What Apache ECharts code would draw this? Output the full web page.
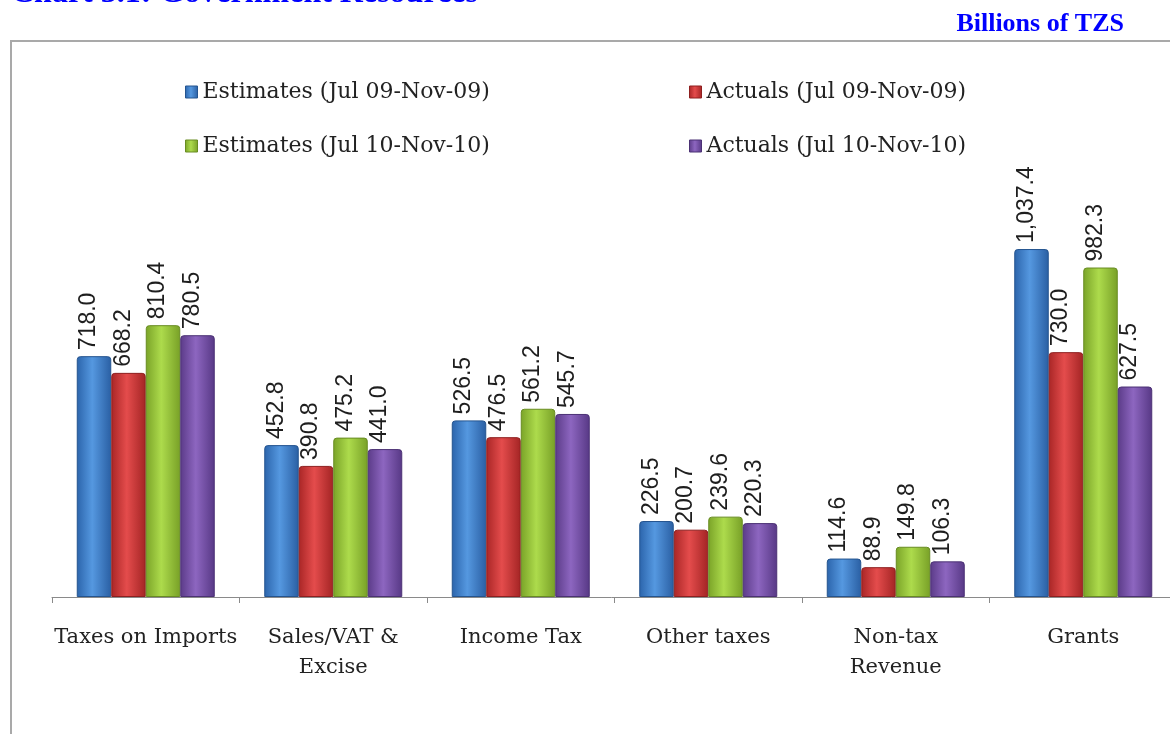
<!DOCTYPE html>
<html>
<head>
<meta charset="utf-8">
<title>Government Resources</title>
<script src="https://cdn.jsdelivr.net/npm/echarts@6/dist/echarts.min.js"></script>
<style>
  html, body { margin: 0; padding: 0; background: #ffffff; }
  #chart { width: 1170px; height: 734px; }
</style>
</head>
<body>
<div id="chart"></div>
<script>
// Revenue heads (billions of TZS)
const categories = ['Taxes on Imports', 'Sales/VAT &\nExcise', 'Income Tax', 'Other taxes', 'Non-tax\nRevenue', 'Grants'];
const estimates0909 = [718.0, 452.8, 526.5, 226.5, 114.6, 1037.4];
const actuals0909   = [668.2, 390.8, 476.5, 200.7, 88.9, 730.0];
const estimates1010 = [810.4, 475.2, 561.2, 239.6, 149.8, 982.3];
const actuals1010   = [780.5, 441.0, 545.7, 220.3, 106.3, 627.5];
const seriesNames = [
  'Estimates (Jul 09-Nov-09)',
  'Actuals (Jul 09-Nov-09)',
  'Estimates (Jul 10-Nov-10)',
  'Actuals (Jul 10-Nov-10)'
];

// Bevel-like horizontal shading per series: [edge, centre, edge, border]
const palette = [
  ['#2b64ab', '#5598e0', '#2a5fa3', '#24548f'],
  ['#a92626', '#e44c4c', '#a32424', '#8e1f1f'],
  ['#7aa328', '#addb4c', '#78a027', '#688c22'],
  ['#5b3b88', '#8d66c0', '#573885', '#4b3174']
];

function shade(p) {
  return new echarts.graphic.LinearGradient(0, 0, 1, 0, [
    { offset: 0, color: p[0] },
    { offset: 0.45, color: p[1] },
    { offset: 1, color: p[2] }
  ]);
}

const fmt = v => Number(v).toLocaleString('en-US', { minimumFractionDigits: 1, maximumFractionDigits: 1 });

const serifFont = '"DejaVu Serif", serif';
const values = [estimates0909, actuals0909, estimates1010, actuals1010];

const series = values.map((arr, i) => ({
  name: seriesNames[i],
  type: 'bar',
  data: arr,
  barWidth: 34.5,
  barGap: '0%',
  itemStyle: {
    color: shade(palette[i]),
    borderColor: palette[i][3],
    borderWidth: 1,
    borderRadius: [3, 3, 0, 0]
  },
  label: {
    show: true,
    position: 'top',
    rotate: 90,
    align: 'left',
    verticalAlign: 'middle',
    distance: 6,
    offset: [0, -5],
    fontFamily: '"Liberation Sans", sans-serif',
    fontSize: 23,
    color: '#1e1e1e',
    formatter: p => fmt(p.value)
  }
}));

const legendPos = [
  { left: 185, top: 81 },
  { left: 689, top: 81 },
  { left: 185, top: 135 },
  { left: 689, top: 135 }
];

const legends = seriesNames.map((n, i) => ({
  data: [{ name: n, itemStyle: { color: shade(palette[i]), borderColor: palette[i][3], borderWidth: 1 } }],
  left: legendPos[i].left,
  top: legendPos[i].top,
  padding: 0,
  icon: 'rect',
  itemWidth: 12,
  itemHeight: 12,
  selectedMode: false,
  textStyle: { fontFamily: serifFont, fontSize: 22, color: '#222' }
}));

const chart = echarts.init(document.getElementById('chart'), null, { renderer: 'canvas' });
chart.setOption({
  backgroundColor: '#ffffff',
  animation: false,
  graphic: [
    {
      type: 'rect',
      shape: { x: 11, y: 41, width: 1200, height: 740 },
      style: { fill: 'none', stroke: '#a9a9a9', lineWidth: 2 },
      z: -1
    },
    {
      type: 'text',
      x: 11, y: 10,
      style: {
        text: 'Chart 3.1: Government Resources',
        font: 'bold 32px "Liberation Serif", serif',
        fill: '#0000ff',
        align: 'left',
        verticalAlign: 'bottom'
      }
    },
    {
      type: 'text',
      x: 1124, y: 24,
      style: {
        text: 'Billions of TZS',
        font: 'bold 26px "Liberation Serif", serif',
        fill: '#0000ff',
        align: 'right',
        verticalAlign: 'middle'
      }
    }
  ],
  legend: legends,
  grid: { left: 52, width: 1125, top: 194.5, bottom: 137, outerBoundsMode: 'none' },
  xAxis: {
    type: 'category',
    data: categories,
    axisLine: { lineStyle: { color: '#8a8a8a', width: 1 } },
    axisTick: { show: true, length: 6, lineStyle: { color: '#8a8a8a' } },
    axisLabel: {
      interval: 0,
      margin: 26,
      fontFamily: serifFont,
      fontSize: 21,
      lineHeight: 30,
      color: '#222'
    }
  },
  yAxis: {
    type: 'value',
    min: 0,
    max: 1200,
    show: false,
    splitLine: { show: false }
  },
  series: series
});
</script>
</body>
</html>
